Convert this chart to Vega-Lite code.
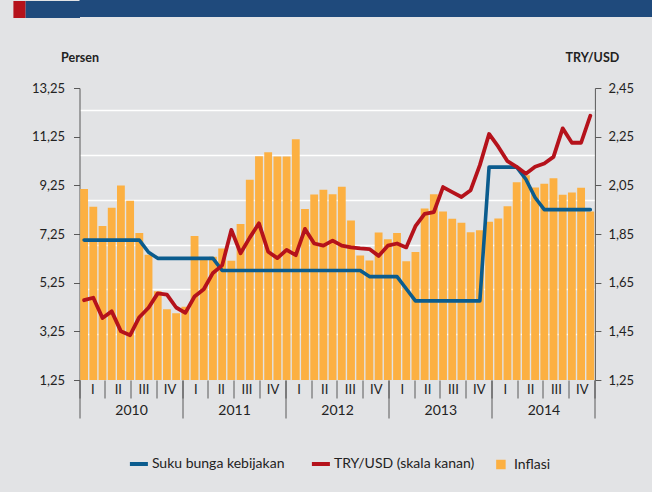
{
  "$schema": "https://vega.github.io/schema/vega-lite/v6.json",
  "background": "#E2E3E5",
  "padding": {"left": 3.5, "top": 0, "right": 0, "bottom": 20},
  "config": {"font": "Lato", "view": {"stroke": null}},
  "datasets": {
    "d": [
      {"m": "2010-05", "inflasi": 9.10, "bunga": 7.00, "kurs": 1.578},
      {"m": "2010-06", "inflasi": 8.37, "bunga": 7.00, "kurs": 1.588},
      {"m": "2010-07", "inflasi": 7.58, "bunga": 7.00, "kurs": 1.505},
      {"m": "2010-08", "inflasi": 8.33, "bunga": 7.00, "kurs": 1.532},
      {"m": "2010-09", "inflasi": 9.24, "bunga": 7.00, "kurs": 1.450},
      {"m": "2010-10", "inflasi": 8.62, "bunga": 7.00, "kurs": 1.434},
      {"m": "2010-11", "inflasi": 7.29, "bunga": 7.00, "kurs": 1.508},
      {"m": "2010-12", "inflasi": 6.40, "bunga": 6.50, "kurs": 1.547},
      {"m": "2011-01", "inflasi": 4.90, "bunga": 6.25, "kurs": 1.606},
      {"m": "2011-02", "inflasi": 4.16, "bunga": 6.25, "kurs": 1.601},
      {"m": "2011-03", "inflasi": 3.99, "bunga": 6.25, "kurs": 1.548},
      {"m": "2011-04", "inflasi": 4.26, "bunga": 6.25, "kurs": 1.526},
      {"m": "2011-05", "inflasi": 7.17, "bunga": 6.25, "kurs": 1.593},
      {"m": "2011-06", "inflasi": 6.24, "bunga": 6.25, "kurs": 1.623},
      {"m": "2011-07", "inflasi": 6.31, "bunga": 6.25, "kurs": 1.690},
      {"m": "2011-08", "inflasi": 6.65, "bunga": 5.75, "kurs": 1.721},
      {"m": "2011-09", "inflasi": 6.15, "bunga": 5.75, "kurs": 1.867},
      {"m": "2011-10", "inflasi": 7.66, "bunga": 5.75, "kurs": 1.771},
      {"m": "2011-11", "inflasi": 9.48, "bunga": 5.75, "kurs": 1.835},
      {"m": "2011-12", "inflasi": 10.45, "bunga": 5.75, "kurs": 1.894},
      {"m": "2012-01", "inflasi": 10.61, "bunga": 5.75, "kurs": 1.777},
      {"m": "2012-02", "inflasi": 10.43, "bunga": 5.75, "kurs": 1.751},
      {"m": "2012-03", "inflasi": 10.43, "bunga": 5.75, "kurs": 1.785},
      {"m": "2012-04", "inflasi": 11.14, "bunga": 5.75, "kurs": 1.763},
      {"m": "2012-05", "inflasi": 8.28, "bunga": 5.75, "kurs": 1.871},
      {"m": "2012-06", "inflasi": 8.87, "bunga": 5.75, "kurs": 1.811},
      {"m": "2012-07", "inflasi": 9.07, "bunga": 5.75, "kurs": 1.802},
      {"m": "2012-08", "inflasi": 8.88, "bunga": 5.75, "kurs": 1.823},
      {"m": "2012-09", "inflasi": 9.19, "bunga": 5.75, "kurs": 1.802},
      {"m": "2012-10", "inflasi": 7.80, "bunga": 5.75, "kurs": 1.795},
      {"m": "2012-11", "inflasi": 6.37, "bunga": 5.75, "kurs": 1.791},
      {"m": "2012-12", "inflasi": 6.16, "bunga": 5.50, "kurs": 1.788},
      {"m": "2013-01", "inflasi": 7.31, "bunga": 5.50, "kurs": 1.760},
      {"m": "2013-02", "inflasi": 7.03, "bunga": 5.50, "kurs": 1.802},
      {"m": "2013-03", "inflasi": 7.29, "bunga": 5.50, "kurs": 1.811},
      {"m": "2013-04", "inflasi": 6.13, "bunga": 5.00, "kurs": 1.795},
      {"m": "2013-05", "inflasi": 6.51, "bunga": 4.50, "kurs": 1.882},
      {"m": "2013-06", "inflasi": 8.30, "bunga": 4.50, "kurs": 1.933},
      {"m": "2013-07", "inflasi": 8.88, "bunga": 4.50, "kurs": 1.940},
      {"m": "2013-08", "inflasi": 8.17, "bunga": 4.50, "kurs": 2.043},
      {"m": "2013-09", "inflasi": 7.88, "bunga": 4.50, "kurs": 2.022},
      {"m": "2013-10", "inflasi": 7.71, "bunga": 4.50, "kurs": 2.002},
      {"m": "2013-11", "inflasi": 7.32, "bunga": 4.50, "kurs": 2.030},
      {"m": "2013-12", "inflasi": 7.40, "bunga": 4.50, "kurs": 2.133},
      {"m": "2014-01", "inflasi": 7.75, "bunga": 10.00, "kurs": 2.261},
      {"m": "2014-02", "inflasi": 7.89, "bunga": 10.00, "kurs": 2.209},
      {"m": "2014-03", "inflasi": 8.39, "bunga": 10.00, "kurs": 2.149},
      {"m": "2014-04", "inflasi": 9.38, "bunga": 10.00, "kurs": 2.126},
      {"m": "2014-05", "inflasi": 9.66, "bunga": 9.50, "kurs": 2.098},
      {"m": "2014-06", "inflasi": 9.16, "bunga": 8.75, "kurs": 2.126},
      {"m": "2014-07", "inflasi": 9.32, "bunga": 8.25, "kurs": 2.140},
      {"m": "2014-08", "inflasi": 9.54, "bunga": 8.25, "kurs": 2.167},
      {"m": "2014-09", "inflasi": 8.86, "bunga": 8.25, "kurs": 2.284},
      {"m": "2014-10", "inflasi": 8.96, "bunga": 8.25, "kurs": 2.225},
      {"m": "2014-11", "inflasi": 9.15, "bunga": 8.25, "kurs": 2.225},
      {"m": "2014-12", "inflasi": 8.17, "bunga": 8.25, "kurs": 2.336}
    ],
    "range": [{"t": "2010-01-01", "v": 1}, {"t": "2014-12-01", "v": 1}]
  },
  "align": "none",
  "bounds": "full",
  "spacing": 33,
  "vconcat": [
    {
      "width": 640,
      "height": 17,
      "view": {"fill": "#1F4A7C", "stroke": null},
      "resolve": {"scale": {"y": "independent"}},
      "layer": [
        {
          "data": {"name": "range"},
          "mark": {"type": "point", "opacity": 0},
          "encoding": {
            "x": {"field": "v", "type": "quantitative", "axis": null},
            "y": {"field": "v", "type": "quantitative", "scale": {"domain": [0, 2], "nice": false},
                  "axis": {"orient": "left", "values": [1], "domain": false, "labels": false, "grid": false, "title": null,
                           "ticks": true, "tickSize": 54.6, "tickWidth": 17, "tickColor": "#1F4A7C", "tickCap": "butt"}}
          }
        },
        {
          "data": {"name": "range"},
          "mark": {"type": "point", "opacity": 0},
          "encoding": {
            "x": {"field": "v", "type": "quantitative", "axis": null},
            "y": {"field": "v", "type": "quantitative", "scale": {"domain": [0, 2], "nice": false},
                  "axis": {"orient": "left", "offset": 54.6, "values": [1], "domain": false, "labels": false, "grid": false, "title": null,
                           "ticks": true, "tickSize": 12, "tickWidth": 17, "tickColor": "#B5121B", "tickCap": "butt"}}
          }
        }
      ]
    },
    {
      "width": 515.4,
      "height": 292,
      "resolve": {"scale": {"x": "independent", "y": "independent"}},
      "layer": [
        {
          "data": {"name": "d"},
          "mark": {"type": "bar", "clip": true},
          "encoding": {
            "x": {"field": "m", "type": "ordinal", "sort": null, "scale": {"paddingInner": 0.15, "paddingOuter": 0.075}, "axis": null},
            "y": {"field": "inflasi", "type": "quantitative",
                  "scale": {"domain": [1.25, 13.25], "nice": false, "zero": false},
                  "axis": {"orient": "left", "values": [3.13, 4.97, 6.81, 8.65, 10.49, 12.33], "grid": true, "gridColor": "#FFFFFF", "gridWidth": 1.6, "labels": false, "ticks": false, "domain": false, "title": null}},
            "color": {"datum": "Inflasi", "type": "nominal",
                      "scale": {"domain": ["Suku bunga kebijakan", "TRY/USD (skala kanan)", "Inflasi"], "range": ["#0B5C8E", "#B5121B", "#FCB042"]},
                      "legend": {
                        "orient": "none", "legendX": 52.4, "legendY": 457, "direction": "horizontal", "title": null,
                        "padding": 0, "columnPadding": 19, "labelOffset": 6, "labelFont": "Lato", "labelFontSize": 14, "labelColor": "#222222",
                        "symbolType": "stroke", "symbolSize": 324, "symbolStrokeWidth": 4,
                        "encode": {"symbols": {"update": {
                          "shape": {"signal": "datum.value === 'Inflasi' ? 'square' : 'stroke'"},
                          "size": {"signal": "datum.value === 'Inflasi' ? 90 : 324"},
                          "fill": {"signal": "datum.value === 'Inflasi' ? '#FCB042' : 'transparent'"},
                          "stroke": {"signal": "datum.value === 'Inflasi' ? 'transparent' : (datum.value === 'Suku bunga kebijakan' ? '#0B5C8E' : '#B5121B')"},
                          "strokeWidth": {"signal": "datum.value === 'Inflasi' ? 0 : 4"}
                        }}}
                      }}
          }
        },
        {
          "data": {"name": "d"},
          "mark": {"type": "line", "strokeWidth": 3.6, "strokeJoin": "round", "strokeCap": "round"},
          "encoding": {
            "x": {"field": "m", "type": "ordinal", "sort": null, "scale": {"type": "point", "padding": 0.5}, "axis": null},
            "y": {"field": "bunga", "type": "quantitative",
                  "scale": {"domain": [1.25, 13.25], "nice": false, "zero": false},
                  "axis": {"orient": "left", "values": [1.25, 3.25, 5.25, 7.25, 9.25, 11.25, 13.25],
                           "labelExpr": "replace(format(datum.value, '.2f'), '.', ',')",
                           "grid": false, "tickSize": 6, "tickColor": "#595959", "domainColor": "#595959",
                           "labelFont": "Lato", "labelFontSize": 13, "labelColor": "#222222", "labelPadding": 9, "minExtent": 66.6,
                           "title": "Persen", "titleAngle": 0, "titleX": 0, "titleY": -27, "titleAlign": "center", "titleBaseline": "alphabetic",
                           "titleFont": "Lato", "titleFontSize": 12.5, "titleFontWeight": "bold", "titleColor": "#222222"}},
            "color": {"datum": "Suku bunga kebijakan", "type": "nominal"}
          }
        },
        {
          "data": {"name": "d"},
          "mark": {"type": "line", "strokeWidth": 3.8, "strokeJoin": "round", "strokeCap": "round"},
          "encoding": {
            "x": {"field": "m", "type": "ordinal", "sort": null, "scale": {"type": "point", "padding": 0.5}, "axis": null},
            "y": {"field": "kurs", "type": "quantitative",
                  "scale": {"domain": [1.25, 2.45], "nice": false, "zero": false},
                  "axis": {"orient": "right", "values": [1.25, 1.45, 1.65, 1.85, 2.05, 2.25, 2.45],
                           "labelExpr": "replace(format(datum.value, '.2f'), '.', ',')",
                           "grid": false, "tickSize": 6, "tickColor": "#595959", "domainColor": "#595959",
                           "labelFont": "Lato", "labelFontSize": 13, "labelColor": "#222222", "labelPadding": 7,
                           "title": "TRY/USD", "titleAngle": 0, "titleX": -3, "titleY": -27, "titleAlign": "center", "titleBaseline": "alphabetic",
                           "titleFont": "Lato", "titleFontSize": 12.5, "titleFontWeight": "bold", "titleColor": "#222222"}},
            "color": {"datum": "TRY/USD (skala kanan)", "type": "nominal"}
          }
        },
        {
          "data": {"name": "range"},
          "mark": {"type": "point", "opacity": 0},
          "encoding": {
            "x": {"field": "t", "type": "temporal",
                  "scale": {"domain": [{"year": 2010, "month": 1, "date": 1}, {"year": 2015, "month": 1, "date": 1}]},
                  "axis": {"orient": "bottom", "tickCount": {"interval": "month", "step": 3},
                           "labelExpr": "year(datum.value) > 2014 ? '' : ['I', 'II', 'III', 'IV'][floor(month(datum.value) / 3)]",
                           "domain": false, "grid": false, "tickSize": 18, "tickColor": "#595959", "tickWidth": 1,
                           "labelPadding": -15, "labelOffset": 12.9, "labelOverlap": false, "labelBound": false, "labelFlush": false,
                           "labelFont": "Lato", "labelFontSize": 13, "labelColor": "#222222", "title": null}},
            "y": {"field": "v", "type": "quantitative", "axis": null}
          }
        },
        {
          "data": {"name": "range"},
          "mark": {"type": "point", "opacity": 0},
          "encoding": {
            "x": {"field": "t", "type": "temporal",
                  "scale": {"domain": [{"year": 2010, "month": 1, "date": 1}, {"year": 2015, "month": 1, "date": 1}]},
                  "axis": {"orient": "bottom", "tickCount": {"interval": "year", "step": 1},
                           "labelExpr": "year(datum.value) > 2014 ? '' : timeFormat(datum.value, '%Y')",
                           "domain": false, "grid": false, "tickSize": 38, "tickColor": "#595959", "tickWidth": 1,
                           "labelPadding": -15, "labelOffset": 51.5, "labelOverlap": false, "labelBound": false, "labelFlush": false,
                           "labelFont": "Lato", "labelFontSize": 14, "labelColor": "#222222", "title": null}},
            "y": {"field": "v", "type": "quantitative", "axis": null}
          }
        }
      ]
    }
  ]
}
